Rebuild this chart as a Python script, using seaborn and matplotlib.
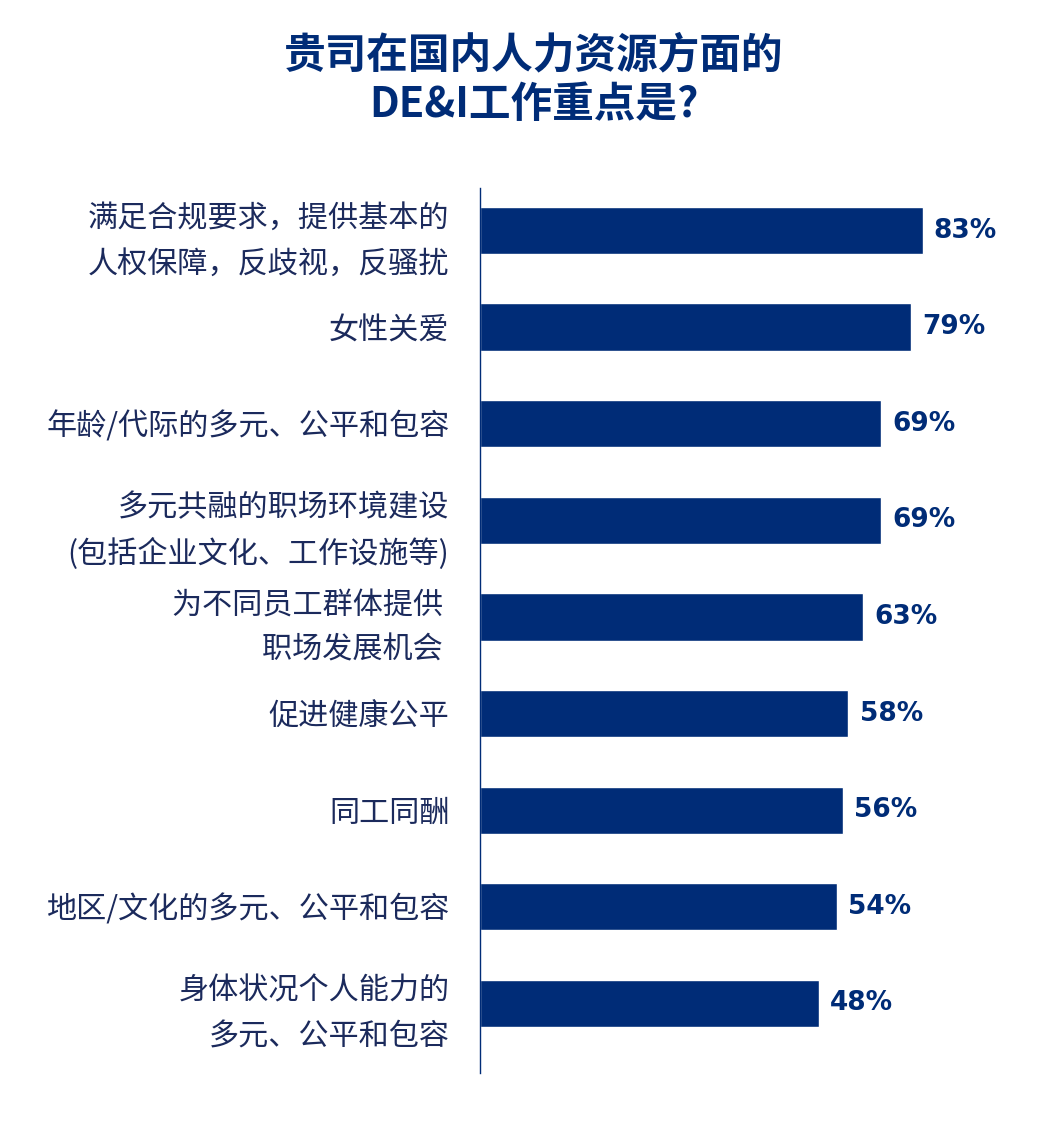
import matplotlib
matplotlib.use("Agg")
import matplotlib.pyplot as plt
import seaborn as sns
import pandas as pd

categories = [
    "满足合规要求，提供基本的\n人权保障，反歧视，反骚扰",
    "女性关爱",
    "年龄/代际的多元、公平和包容",
    "多元共融的职场环境建设\n(包括企业文化、工作设施等)",
    "为不同员工群体提供 \n职场发展机会 ",
    "促进健康公平",
    "同工同酬",
    "地区/文化的多元、公平和包容",
    "身体状况个人能力的\n多元、公平和包容",
]
values = [83, 79, 69, 69, 63, 58, 56, 54, 48]

navy = "#002c77"
text_navy = "#1b2a5c"
base = 66  # the original axis does not start at zero

sns.set_style("white")
plt.rcParams['font.family'] = ['Noto Sans CJK SC', 'DejaVu Sans']

df = pd.DataFrame({"item": categories, "share": values})
df["shown"] = df["share"] + base

fig = plt.figure(figsize=(10.41, 11.27), dpi=100)
ax = fig.add_axes([480 / 1041, 1 - 1073 / 1127, 520 / 1041, (1073 - 188) / 1127])
sns.barplot(data=df, x="shown", y="item", color=navy, saturation=1, width=0.49, ax=ax)

ax.set_xlim(0, 175)
ax.set_ylim(8.72, -0.44)
ax.set_xticks([])
ax.set_xlabel("")
ax.set_ylabel("")
sns.despine(ax=ax, bottom=True)
ax.spines["left"].set_color(navy)
ax.spines["left"].set_linewidth(1)

ax.tick_params(axis="y", length=0, pad=22, labelsize=21.7, labelcolor=text_navy)
for lab in ax.get_yticklabels():
    lab.set_linespacing(1.6)

ax.bar_label(ax.containers[0], labels=[f"{v}%" for v in values], padding=8,
             fontsize=19, fontweight="bold", color=navy, family="DejaVu Sans")

fig.text(0.513, 0.929, "贵司在国内人力资源方面的\nDE&I工作重点是?", ha="center", va="center",
         fontsize=30, fontweight="bold", color=navy, linespacing=1.22)

fig.savefig("out.png", dpi=100)
